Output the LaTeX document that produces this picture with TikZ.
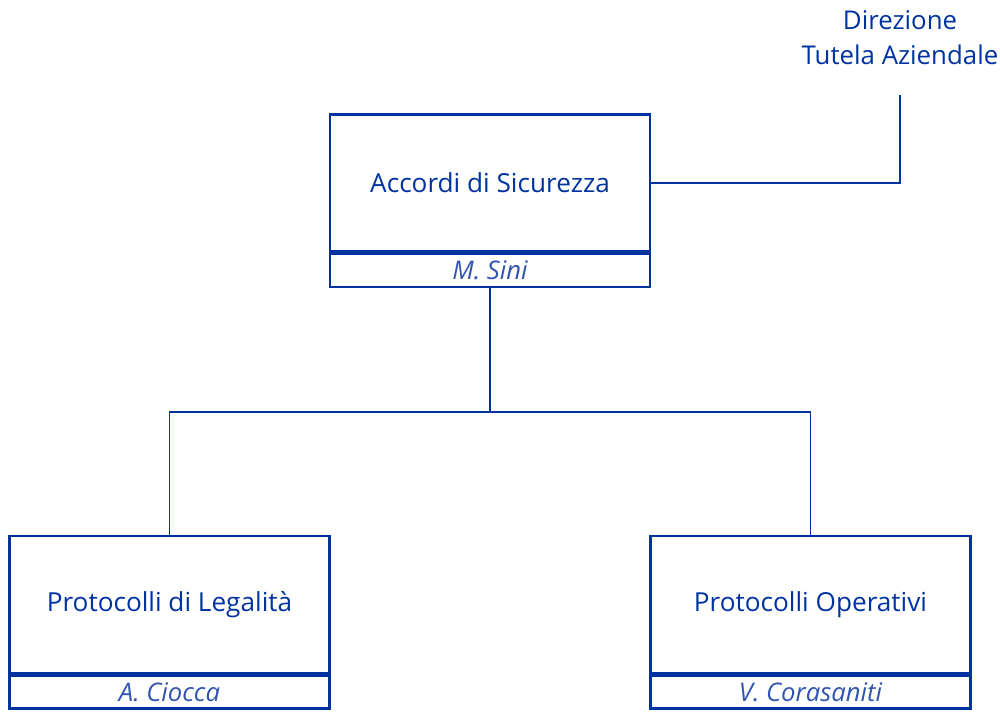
\documentclass[tikz,border=0pt]{standalone}
\usepackage{fontspec}
\setmainfont{Open Sans}
\definecolor{orgblue}{HTML}{0033A0}
\definecolor{nameblue}{HTML}{3355B0}
\usetikzlibrary{positioning}

\begin{document}
\begin{tikzpicture}[
  x=0.02cm, y=-0.02cm,
  unit/.style={draw=orgblue, line width=1.4pt, minimum width=6.4cm, minimum height=2.74cm, inner sep=0pt, text=orgblue, font=\fontsize{14.9}{17}\selectfont},
  head/.style={draw=orgblue, line width=1.4pt, minimum width=6.4cm, minimum height=0.66cm, inner sep=0pt, text=nameblue, font=\fontsize{14.6}{16}\selectfont\itshape},
  link/.style={draw=orgblue, line width=1.1pt}
]
  \useasboundingbox (0,0) rectangle (1000,714);

  % Unita' centrale
  \node[unit] (acc) at (490,183) {Accordi di Sicurezza};
  \node[head, below=0pt of acc] (accname) {M. Sini};

  % Unita' sottostanti
  \node[unit] (leg) at (169.5,604.5) {Protocolli di Legalità};
  \node[head, below=0pt of leg] (legname) {A. Ciocca};
  \node[unit] (ope) at (810.5,604.5) {Protocolli Operativi};
  \node[head, below=0pt of ope] (opename) {V. Corasaniti};

  % Direzione di riferimento
  \node[text=orgblue, align=center, font=\fontsize{14.7}{19.8}\selectfont] (dir) at (900,38) {Direzione\\Tutela Aziendale};
  \coordinate (dirend) at (900,95);

  % Collegamenti
  \coordinate (fork) at (490,412);
  \draw[link] (accname.south) -- (fork);
  \draw[link] (fork) -| (leg.north);
  \draw[link] (fork) -| (ope.north);
  \draw[link] (acc.east) -| (dirend);
\end{tikzpicture}
\end{document}
